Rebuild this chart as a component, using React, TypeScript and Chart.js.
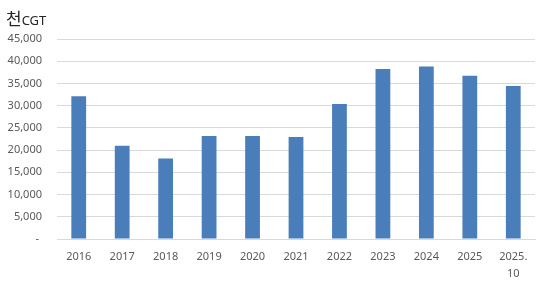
import React, { useEffect, useRef } from "react";
import { Chart, registerables } from "chart.js";

Chart.register(...registerables);

const categories: (string | string[])[] = ["2016", "2017", "2018", "2019", "2020", "2021", "2022", "2023", "2024", "2025", ["2025.", "10"]];
const values: number[] = [32100, 21000, 18100, 23200, 23200, 22950, 30400, 38250, 38800, 36750, 34400];
const yMax = 45000;
const yStep = 5000;
const unitMain = "천";
const unitSub = "CGT";

const titlePlugin = {
  id: "unitTitle",
  afterDraw(chart: any) {
    const ctx = chart.ctx;
    ctx.save();
    ctx.fillStyle = "#262626";
    ctx.textBaseline = "alphabetic";
    ctx.font = "17px 'Noto Sans CJK KR'";
    ctx.fillText(unitMain, 6, 25);
    const w = ctx.measureText(unitMain).width;
    ctx.font = "13px 'Noto Sans', 'Noto Sans CJK KR'";
    ctx.fillText(unitSub, 6 + w, 25);
    ctx.restore();
  },
};

export default function App() {
  const ref = useRef<HTMLCanvasElement | null>(null);
  useEffect(() => {
    if (!ref.current) return;
    const font = { family: "'Noto Sans', 'Noto Sans CJK KR', sans-serif", size: 11 };
    const chart = new Chart(ref.current, {
      type: "bar",
      data: {
        labels: categories as any,
        datasets: [
          {
            data: values,
            backgroundColor: "#4a7ebb",
            borderWidth: 0,
            barPercentage: 0.68,
            categoryPercentage: 0.5,
          },
        ],
      },
      options: {
        animation: false,
        responsive: false,
        maintainAspectRatio: false,
        layout: { padding: { top: 39, right: 14, bottom: 0, left: 0 } },
        plugins: { legend: { display: false }, tooltip: { enabled: false } },
        scales: {
          x: {
            grid: { display: false, drawTicks: false },
            border: { display: true, color: "#d9d9d9", width: 1 },
            ticks: { color: "#595959", font: { ...font, lineHeight: 1.55 }, padding: 9, maxRotation: 0, autoSkip: false },
            afterFit: (s: any) => {
              s.height = 47;
            },
          },
          y: {
            min: 0,
            max: yMax,
            grid: { color: "#d9d9d9", drawTicks: false },
            border: { display: false },
            ticks: {
              stepSize: yStep,
              color: "#595959",
              font,
              padding: 15,
              callback: (v: any) => (Number(v) === 0 ? "- " : Number(v).toLocaleString("en-US")),
            },
            afterFit: (s: any) => {
              s.width = 57;
            },
          },
        },
      },
      plugins: [titlePlugin],
    });
    return () => chart.destroy();
  }, []);
  return (
    <div style={{ position: "fixed", left: 0, top: 0, width: 549, height: 286, background: "#fff" }}>
      <canvas ref={ref} width={549} height={286} style={{ width: 549, height: 286 }} />
    </div>
  );
}
